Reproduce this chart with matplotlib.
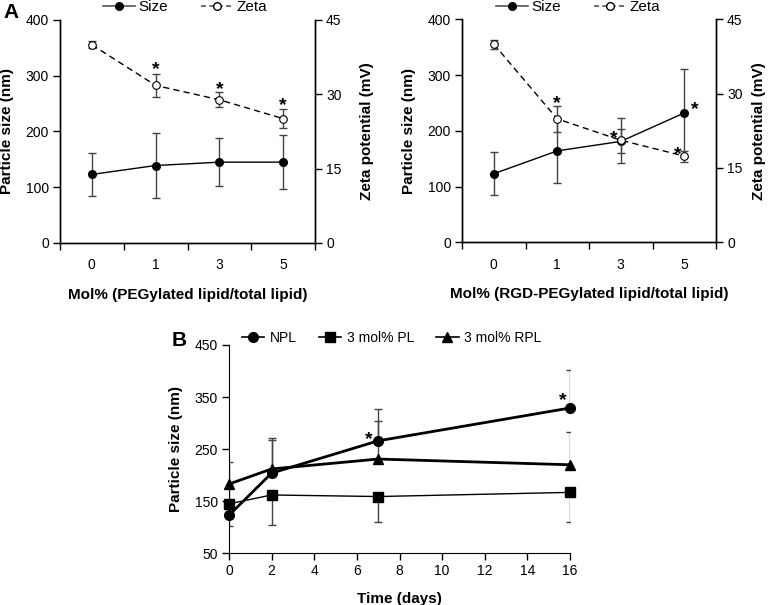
import matplotlib
matplotlib.use("Agg")
import matplotlib.pyplot as plt
from matplotlib.lines import Line2D
import numpy as np

plt.rcParams['font.family'] = ['Liberation Sans', 'DejaVu Sans']

# ---------------- data ----------------
cats_A = ['0', '1', '3', '5']

peg_size = [123, 139, 145, 145]
peg_size_err = [38, 57.5, 43, 48]
peg_zeta = [40.0, 31.8, 28.9, 25.1]
peg_zeta_err = [0.7, 2.35, 1.5, 1.9]

rgd_size = [123, 164, 181, 232]
rgd_size_err = [39, 57, 21.5, 79]
rgd_zeta = [40.0, 24.9, 20.6, 17.4]
rgd_zeta_err = [0.9, 2.6, 4.5, 1.1]

days = [0, 2, 7, 16]
npl = [123, 204, 266, 329]
npl_err_up = [56, 67, 62, 73]
pl = [145, 162, 159, 167]
pl_err_down = [42, 58, 49, 56]
rpl = [183, 212, 231, 220]
rpl_err_up = [42, 56, 74, 62]

# star annotations (x, y in data units of the given axis)
stars_peg = [(1, 36.3), (2, 32.3), (3, 29.1)]               # zeta axis
stars_rgd = [(1, 29.4), (1.89, 22.3), (3.16, 28.2), (2.9, 19.0)]  # zeta axis
stars_B = [(6.54, 280.5), (15.66, 357)]

W, H = 768, 605
fig = plt.figure(figsize=(W / 100, H / 100), dpi=100)

def px_axes(x0, y0, x1, y1):
    return fig.add_axes([x0 / W, 1 - y1 / H, (x1 - x0) / W, (y1 - y0) / H])

ERR_C = '#444444'
TICK_FS = 10
LAB_FS = 11

def star(ax, x, y, fs=14):
    ax.annotate('*', xy=(x, y), xytext=(0, -0.58 * fs), textcoords='offset points',
                ha='center', va='baseline', fontsize=fs, fontweight='bold',
                annotation_clip=False)

def panelA(box, size, size_err, zeta, zeta_err, xlabel, stars, legend_x, rpad):
    ax = px_axes(*box)
    ax2 = ax.twinx()
    x = np.arange(len(cats_A))
    ax.errorbar(x, size, yerr=size_err, fmt='none', ecolor=ERR_C, elinewidth=1,
                capsize=3, capthick=1, zorder=2)
    ax.plot(x, size, '-', color='black', lw=1, marker='o', ms=5.5,
            mfc='black', mec='black', zorder=3)
    ax2.errorbar(x, zeta, yerr=zeta_err, fmt='none', ecolor=ERR_C, elinewidth=1,
                 capsize=3, capthick=1, zorder=2)
    ax2.plot(x, zeta, linestyle=(0, (4.5, 3)), color='black', lw=1, marker='o',
             ms=5.5, mfc='white', mec='black', mew=0.8, zorder=3)
    ax.set_xlim(-0.5, 3.5)
    ax.set_ylim(0, 400)
    ax2.set_ylim(0, 45)
    ax.set_yticks([0, 100, 200, 300, 400])
    ax2.set_yticks([0, 15, 30, 45])
    ax.set_xticks(np.arange(-0.5, 4, 1))
    ax.set_xticklabels([''] * 5)
    ax.set_xticks(x, minor=True)
    ax.set_xticklabels(cats_A, minor=True)
    ax.tick_params(axis='x', which='major', direction='out', length=5, width=1)
    ax.tick_params(axis='x', which='minor', length=0, pad=11, labelsize=TICK_FS)
    ax.tick_params(axis='y', direction='out', length=5, width=1, pad=3, labelsize=TICK_FS)
    ax2.tick_params(axis='y', direction='out', length=5, width=1, pad=3, labelsize=TICK_FS)
    for a in (ax, ax2):
        a.spines['top'].set_visible(False)
        for s in a.spines.values():
            s.set_linewidth(1)
    ax.set_xlabel(xlabel, fontsize=LAB_FS, fontweight='bold', labelpad=11)
    ax.set_ylabel('Particle size (nm)', fontsize=LAB_FS, fontweight='bold', labelpad=8)
    ax2.set_ylabel('Zeta potential (mV)', fontsize=LAB_FS, fontweight='bold', labelpad=rpad)
    for (sx, sy) in stars:
        star(ax2, sx, sy)
    handles = [Line2D([], [], color='#555555', lw=1.2, marker='o', ms=5.5, mfc='black', mec='black'),
               Line2D([], [], color='#555555', lw=1.2, linestyle=(0, (3, 2)), marker='o', ms=5.5,
                      mfc='white', mec='black')]
    fig.legend(handles, ['Size', 'Zeta'], loc='center left',
               bbox_to_anchor=(legend_x / W, 1 - 7 / H), bbox_transform=fig.transFigure,
               ncol=2, frameon=False, fontsize=11, handlelength=2.1, handletextpad=0.2,
               columnspacing=2.2, borderpad=0, borderaxespad=0, numpoints=1)
    return ax, ax2

panelA((60, 20, 315, 243), peg_size, peg_size_err, peg_zeta, peg_zeta_err,
       'Mol% (PEGylated lipid/total lipid)', stars_peg, 103, 13)
panelA((462, 19.3, 716, 242.3), rgd_size, rgd_size_err, rgd_zeta, rgd_zeta_err,
       'Mol% (RGD-PEGylated lipid/total lipid)', stars_rgd, 496, 7)

# ---------------- panel B ----------------
axB = px_axes(229, 345, 570, 553.3)
zeros = [0] * len(days)
axB.errorbar(days, npl, yerr=[zeros, npl_err_up], fmt='none', ecolor=ERR_C,
             elinewidth=1, capsize=3, capthick=1, zorder=2)
axB.errorbar(days, pl, yerr=[pl_err_down, zeros], fmt='none', ecolor=ERR_C,
             elinewidth=1, capsize=3, capthick=1, zorder=2)
axB.errorbar(days, rpl, yerr=[zeros, rpl_err_up], fmt='none', ecolor=ERR_C,
             elinewidth=1, capsize=3, capthick=1, zorder=2)
l1, = axB.plot(days, npl, '-', color='black', lw=2, marker='o', ms=7, zorder=4, clip_on=False)
l2, = axB.plot(days, pl, '-', color='black', lw=1, marker='s', ms=6.5, zorder=3, clip_on=False)
l3, = axB.plot(days, rpl, '-', color='black', lw=2, marker='^', ms=7, zorder=3, clip_on=False)
axB.set_xlim(0, 16)
axB.set_ylim(50, 450)
axB.set_xticks(np.arange(0, 17, 2))
axB.set_yticks([50, 150, 250, 350, 450])
axB.tick_params(direction='out', length=5, width=1, pad=3, labelsize=TICK_FS)
axB.spines['top'].set_visible(False)
axB.spines['right'].set_visible(False)
axB.set_xlabel('Time (days)', fontsize=LAB_FS, fontweight='bold', labelpad=10)
axB.set_ylabel('Particle size (nm)', fontsize=LAB_FS, fontweight='bold', labelpad=8)
for (sx, sy) in stars_B:
    star(axB, sx, sy)
hB = [Line2D([], [], color='black', lw=1.2, marker='o', ms=7),
      Line2D([], [], color='black', lw=1.2, marker='s', ms=6.5),
      Line2D([], [], color='black', lw=1.2, marker='^', ms=7)]
fig.legend(hB, ['NPL', '3 mol% PL', '3 mol% RPL'], loc='center left',
           bbox_to_anchor=(242 / W, 1 - 338 / H), bbox_transform=fig.transFigure,
           ncol=3, frameon=False, fontsize=10, handlelength=1.6, handletextpad=0.4,
           columnspacing=1.6, borderpad=0, borderaxespad=0, numpoints=1)

# panel letters
fig.text(3 / W, 1 - 13 / H, 'A', fontsize=15, fontweight='bold', va='center', ha='left')
fig.text(172 / W, 1 - 341 / H, 'B', fontsize=15, fontweight='bold', va='center', ha='left')

fig.savefig('out.png', dpi=100)
